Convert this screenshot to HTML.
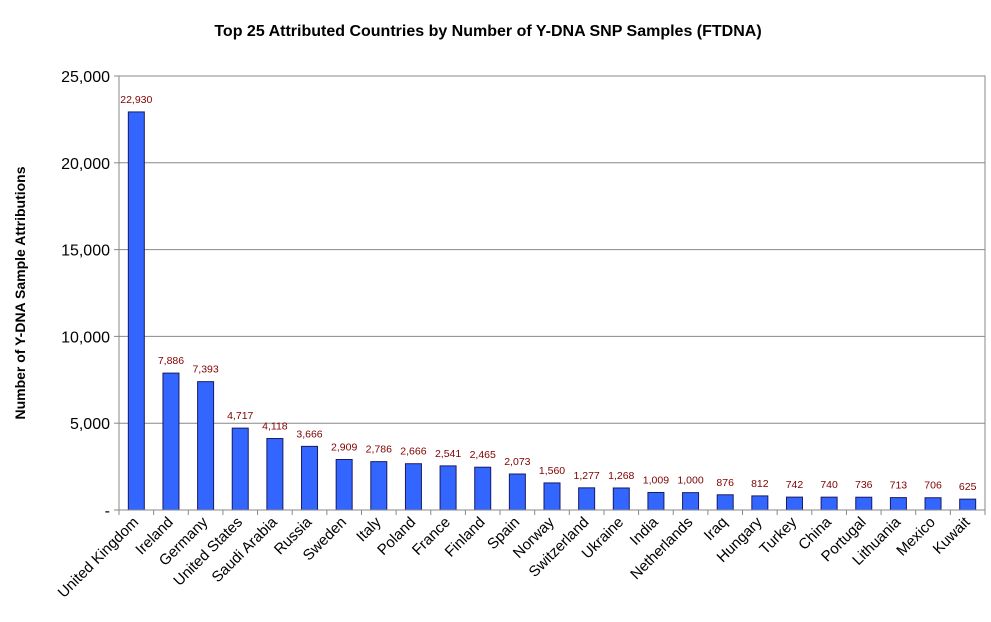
<!DOCTYPE html>
<html><head><meta charset="utf-8"><style>
body{margin:0;background:#fff;}
svg{display:block;}
text{font-family:"Liberation Sans",Arial,sans-serif;}
</style></head><body>
<svg id="chart" width="991" height="622" xmlns="http://www.w3.org/2000/svg" font-family="Liberation Sans, Arial, sans-serif">
<text x="488" y="36" text-anchor="middle" font-size="16" font-weight="bold">Top 25 Attributed Countries by Number of Y-DNA SNP Samples (FTDNA)</text>
<text transform="translate(25,293) rotate(-90)" text-anchor="middle" font-size="14" font-weight="bold">Number of Y-DNA Sample Attributions</text>
<g id="grid"></g><g id="bars"></g><g id="axes"></g>
</svg>
<script>
const categories=["United Kingdom","Ireland","Germany","United States","Saudi Arabia","Russia","Sweden","Italy","Poland","France","Finland","Spain","Norway","Switzerland","Ukraine","India","Netherlands","Iraq","Hungary","Turkey","China","Portugal","Lithuania","Mexico","Kuwait"];
const values=[22930,7886,7393,4717,4118,3666,2909,2786,2666,2541,2465,2073,1560,1277,1268,1009,1000,876,812,742,740,736,713,706,625];
const tickValues=[0,5000,10000,15000,20000,25000];
const tickLabels=["-","5,000","10,000","15,000","20,000","25,000"];
const valueLabels=["22,930","7,886","7,393","4,717","4,118","3,666","2,909","2,786","2,666","2,541","2,465","2,073","1,560","1,277","1,268","1,009","1,000","876","812","742","740","736","713","706","625"];
const NS="http://www.w3.org/2000/svg";
const L=119,R=985,T=76,B=510,yMax=25000;
const y=v=>B-(v/yMax)*(B-T);
const step=(R-L)/categories.length;
const xc=i=>L+step*(i+0.5);
const FONT='"Liberation Sans", Arial, sans-serif';
function mk(tag,attrs,parent,text){const e=document.createElementNS(NS,tag);for(const k in attrs)e.setAttribute(k,attrs[k]);if(text!=null){e.textContent=text;e.setAttribute('font-family',FONT);}parent.appendChild(e);return e;}
const grid=document.getElementById('grid'),bars=document.getElementById('bars'),axes=document.getElementById('axes');
mk('rect',{x:L,y:T,width:R-L,height:B-T,fill:'none',stroke:'#888','stroke-width':1},grid);
tickValues.forEach((v,i)=>{
  const yy=y(v);
  if(v>0){const g=mk('line',{x1:L,x2:R,y1:yy,y2:yy,stroke:'#888','stroke-width':1},grid);
  
  }
  mk('line',{x1:L-5,x2:L,y1:yy,y2:yy,stroke:'#888'},axes);
  const t=mk('text',{x:L-9,y:yy+6,'text-anchor':'end','font-size':16},axes,tickLabels[i]);
  
  
});
mk('line',{x1:L,x2:R,y1:B,y2:B,stroke:'#888'},axes);
for(let i=0;i<=categories.length;i++){mk('line',{x1:L+step*i,x2:L+step*i,y1:B,y2:B+5,stroke:'#888'},axes);}
categories.forEach((c,i)=>{
  const v=values[i],yy=y(v),w=16;
  const r=mk('rect',{x:xc(i)-w/2,y:yy,width:w,height:B-yy,fill:'#3366ff',stroke:'#1a1a66','stroke-width':1},bars);
  
  
  const lb=mk('text',{x:xc(i),y:yy-9,'text-anchor':'middle','font-size':10.5,fill:'#800000'},bars,valueLabels[i]);
  
  
  const xl=mk('text',{transform:`translate(${xc(i)+3},${B+13}) rotate(-45)`,'text-anchor':'end','font-size':15},axes,c);
  
  
});
</script>
</body></html>
